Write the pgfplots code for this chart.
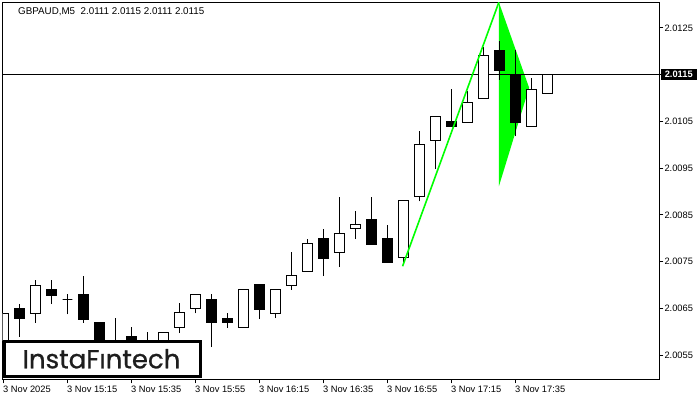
\documentclass[border=0pt]{standalone}
\usepackage{pgfplots}
\pgfplotsset{compat=1.18}
\usepackage{pgfplotstable}
\usepackage{fontspec}
\setmainfont{Liberation Sans}
\newfontfamily\logofont{Poppins}[FakeBold=0.8]
\definecolor{flag}{HTML}{00FF00}
\definecolor{logotext}{HTML}{1E1E1E}

% GBPAUD M5 candles: index (5 min steps from 14:55), open, high, low, close
\pgfplotstableread{
i o h l c
0 2.00580 2.00639 2.00570 2.00639
1 2.00649 2.00660 2.00589 2.00628
2 2.00639 2.00710 2.00619 2.00699
3 2.00690 2.00710 2.00659 2.00678
4 2.00669 2.00680 2.00637 2.00669
5 2.00680 2.00720 2.00619 2.00627
6 2.00620 2.00620 2.00550 2.00570
7 2.00575 2.00629 2.00550 2.00565
8 2.00590 2.00609 2.00550 2.00570
9 2.00570 2.00599 2.00560 2.00580
10 2.00570 2.00598 2.00560 2.00598
11 2.00609 2.00661 2.00597 2.00640
12 2.00649 2.00679 2.00639 2.00679
13 2.00669 2.00680 2.00567 2.00619
14 2.00629 2.00639 2.00608 2.00619
15 2.00609 2.00690 2.00609 2.00690
16 2.00700 2.00700 2.00627 2.00648
17 2.00639 2.00690 2.00629 2.00690
18 2.00698 2.00770 2.00690 2.00720
19 2.00728 2.00799 2.00728 2.00788
20 2.00799 2.00820 2.00719 2.00757
21 2.00770 2.00889 2.00738 2.00810
22 2.00820 2.00859 2.00798 2.00829
23 2.00840 2.00889 2.00787 2.00787
24 2.00800 2.00829 2.00749 2.00749
25 2.00758 2.00881 2.00746 2.00881
26 2.00889 2.01030 2.00879 2.01000
27 2.01010 2.01060 2.00948 2.01060
28 2.01049 2.01120 2.01040 2.01040
29 2.01048 2.01116 2.01048 2.01090
30 2.01099 2.01210 2.01099 2.01191
31 2.01201 2.01221 2.01139 2.01159
32 2.01150 2.01203 2.01018 2.01048
33 2.01040 2.01142 2.01040 2.01119
34 2.01109 2.01150 2.01109 2.01150
}\candles

\begin{document}
\begin{tikzpicture}[x=1bp,y=1bp]
\path[use as bounding box] (0,0) rectangle (700,400);
\begin{axis}[
    at={(2.7bp,20.7bp)}, anchor=south west,
    scale only axis, width=656.6bp, height=376.6bp,
    xmin=-0.05, xmax=41, ymin=2.00498, ymax=2.01304,
    axis line style={black, line width=1bp},
    tick style={black, line width=1bp},
    tick align=outside, major tick length=4bp,
    xtick pos=lower, ytick pos=upper, yticklabel pos=right,
    xtick={0,4,8,12,16,20,24,28,32},
    xticklabels={3 Nov 2025,3 Nov 15:15,3 Nov 15:35,3 Nov 15:55,3 Nov 16:15,3 Nov 16:35,3 Nov 16:55,3 Nov 17:15,3 Nov 17:35},
    ytick={2.0055,2.0065,2.0075,2.0085,2.0095,2.0105,2.0115,2.0125},
    yticklabels={2.0055,2.0065,2.0075,2.0085,2.0095,2.0105,,2.0125},
    tick label style={font=\fontsize{9.3bp}{10bp}\selectfont},
    xticklabel style={anchor=north west, inner sep=0pt, xshift=-0.5bp, yshift=-3bp},
    yticklabel style={anchor=west, inner sep=0pt, xshift=1bp},
]
% pennant
\addplot[draw=none, fill=flag] coordinates {(30.97,2.01305) (30.97,2.00911) (32.86,2.01122)} -- cycle;
% current price line
\addplot[black, line width=1bp] coordinates {(-1,2.0115) (42,2.0115)};
% candles
\pgfplotsforeachungrouped \k in {0,...,34}{%
  \pgfplotstablegetelem{\k}{i}\of\candles \let\ci\pgfplotsretval
  \pgfplotstablegetelem{\k}{o}\of\candles \let\co\pgfplotsretval
  \pgfplotstablegetelem{\k}{h}\of\candles \let\ch\pgfplotsretval
  \pgfplotstablegetelem{\k}{l}\of\candles \let\cl\pgfplotsretval
  \pgfplotstablegetelem{\k}{c}\of\candles \let\cc\pgfplotsretval
  \pgfmathsetmacro\xa{\ci-0.3}%
  \pgfmathsetmacro\xb{\ci+0.3}%
  \ifdim\co pt>\cc pt \def\bodyfill{black}\else\def\bodyfill{white}\fi
  \edef\tmp{%
    \noexpand\addplot[black, line width=1bp] coordinates {(\ci,\cl) (\ci,\ch)};
    \noexpand\addplot[draw=black, fill=\bodyfill, line width=1bp] coordinates {(\xa,\co) (\xb,\co) (\xb,\cc) (\xa,\cc)} -- cycle;
  }\tmp
}
% flagpole
\addplot[flag, line width=1.6bp] coordinates {(24.95,2.0074) (30.97,2.01305)};
\coordinate (lastprice) at (axis cs:41,2.0115);
\end{axis}
\node[anchor=west, fill=black, text=white, inner sep=0pt, minimum width=36bp, minimum height=11bp,
      font=\fontsize{9.3bp}{10bp}\selectfont\bfseries] at ([xshift=1.2bp]lastprice) {2.0115};
\node[anchor=base west, font=\fontsize{9.8bp}{11bp}\selectfont, inner sep=0pt] at (18,386) {GBPAUD,M5\ \ 2.0111 2.0115 2.0111 2.0115};
% logo
\draw[black, line width=3bp, fill=white] (4.2,23.2) rectangle (200.2,58.2);
\node[anchor=base, inner sep=0pt, text=logotext, font=\logofont\fontsize{26bp}{28bp}\selectfont] at (101.5,31.7) {InstaFıntech};
\end{tikzpicture}
\end{document}
